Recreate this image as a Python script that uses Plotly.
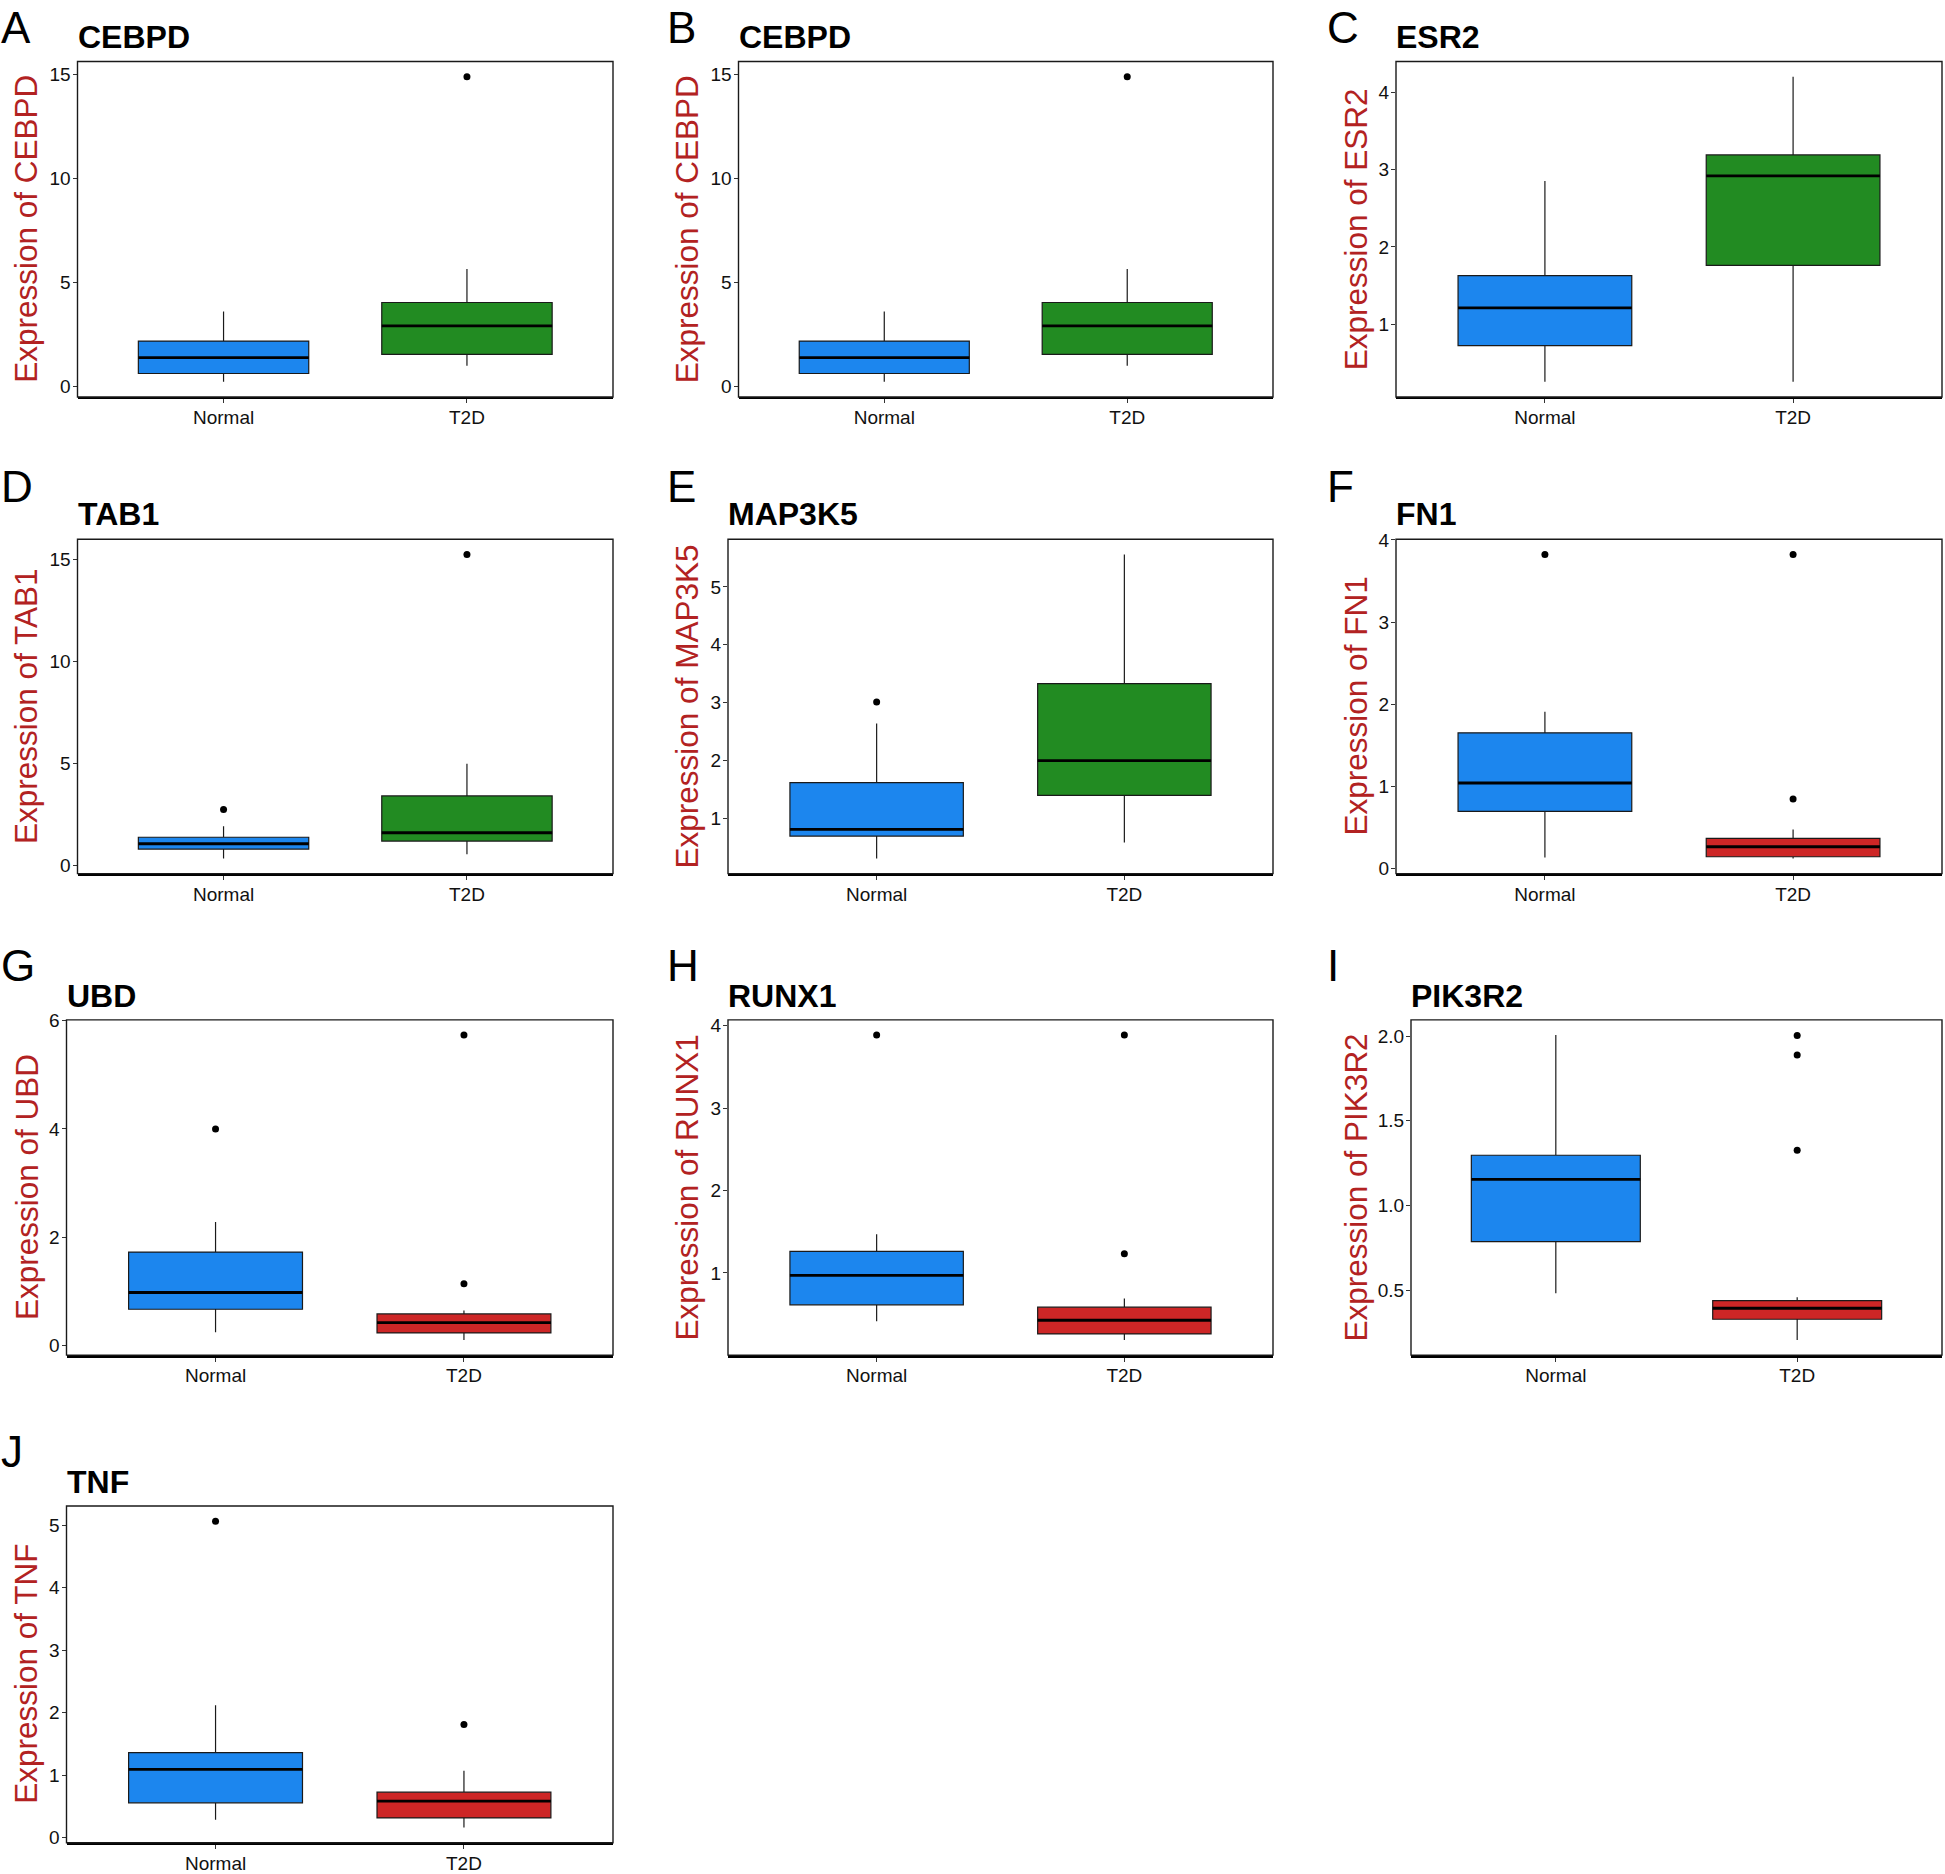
import plotly.graph_objects as go

# ---------------- data ----------------
genes = ["CEBPD", "CEBPD", "ESR2", "TAB1", "MAP3K5", "FN1", "UBD", "RUNX1", "PIK3R2", "TNF"]
panel_letters = ["A", "B", "C", "D", "E", "F", "G", "H", "I", "J"]
groups = ["Normal", "T2D"]
t2d_color_key = ["green", "green", "green", "green", "green", "red", "red", "red", "red", "red"]

normal_low = [0.21, 0.21, 0.255, 0.33, 0.31, 0.134, 0.24, 0.414, 0.482, 0.285]
normal_q1 = [0.61, 0.61, 0.723, 0.79, 0.695, 0.694, 0.667, 0.613, 0.787, 0.554]
normal_median = [1.37, 1.37, 1.212, 1.05, 0.81, 1.04, 0.977, 0.97, 1.154, 1.091]
normal_q3 = [2.17, 2.17, 1.628, 1.37, 1.62, 1.651, 1.724, 1.262, 1.297, 1.36]
normal_high = [3.59, 3.59, 2.853, 1.91, 2.64, 1.907, 2.28, 1.469, 2.006, 2.118]
normal_outliers = [[], [], [], [2.73], [3.01], [3.822], [4.0], [3.886], [], [5.065]]

t2d_low = [0.98, 0.98, 0.255, 0.54, 0.586, 0.122, 0.10, 0.187, 0.207, 0.161]
t2d_q1 = [1.53, 1.53, 1.762, 1.18, 1.40, 0.142, 0.229, 0.26, 0.329, 0.312]
t2d_median = [2.9, 2.9, 2.918, 1.59, 2.0, 0.264, 0.42, 0.426, 0.394, 0.581]
t2d_q3 = [4.03, 4.03, 3.19, 3.4, 3.33, 0.365, 0.58, 0.584, 0.439, 0.726]
t2d_high = [5.64, 5.64, 4.2, 4.98, 5.56, 0.475, 0.643, 0.69, 0.459, 1.07]
t2d_outliers = [[14.9], [14.9], [], [15.26], [], [0.844, 3.822], [1.137, 5.735],
                [1.233, 3.886], [1.327, 1.888, 2.004], [1.81]]

y_tick_values = [[0, 5, 10, 15], [0, 5, 10, 15], [1, 2, 3, 4], [0, 5, 10, 15], [1, 2, 3, 4, 5],
                 [0, 1, 2, 3, 4], [0, 2, 4, 6], [0, 1, 2, 3, 4], [0.5, 1.0, 1.5, 2.0], [0, 1, 2, 3, 4, 5]]
y_tick_labels = [["0", "5", "10", "15"], ["0", "5", "10", "15"], ["1", "2", "3", "4"],
                 ["0", "5", "10", "15"], ["1", "2", "3", "4", "5"], ["0", "1", "2", "3", "4"],
                 ["0", "2", "4", "6"], ["0", "1", "2", "3", "4"], ["0.5", "1.0", "1.5", "2.0"],
                 ["0", "1", "2", "3", "4", "5"]]

# ---------------- styling / layout ----------------
W, H = 1945, 1874
FONT = "Liberation Sans, Arial, sans-serif"
FILL = {"blue": "#1C86EE", "green": "#228B22", "red": "#CD2626"}
LABEL_RED = "#B22222"
BOX_W = 0.7

# panel frames in pixels: (left, right, top, bottom)
frames = [
    (77.5, 613, 60.5, 397), (738.5, 1273, 60.5, 397), (1396, 1942, 60.5, 397),
    (77.5, 613, 539.7, 875), (728, 1273, 539.7, 875), (1396, 1942, 539.7, 875),
    (66.5, 613, 1021.7, 1358), (728, 1273, 1021.7, 1358), (1411, 1942, 1021.7, 1358),
    (66.5, 613, 1509.3, 1847),
]
col_of = [0, 1, 2, 0, 1, 2, 0, 1, 2, 0]
row_of = [0, 0, 0, 1, 1, 1, 2, 2, 2, 3]
letter_x = [-1, 665, 1325]
letter_y = [26.5, 486.5, 967, 1455]
title_y = [36, 514.3, 997.5, 1485]
ylabel_x = [26.5, 687, 1356]

# small vertical correction for how the page ends up in the photograph
Y_OFF, Y_SCALE = 8.8, 0.9923


def px_x(v):
    return v / W


def px_y(v):
    return 1 - ((v - Y_OFF) / Y_SCALE) / H


fig = go.Figure()
layout = dict(width=W, height=H, margin=dict(l=0, r=0, t=0, b=0),
              paper_bgcolor="white", plot_bgcolor="white", boxmode="overlay",
              showlegend=False, font=dict(family=FONT, color="#111111"))
shapes = []
annotations = []

for i in range(10):
    n = i + 1
    xa = "x" if n == 1 else f"x{n}"
    ya = "y" if n == 1 else f"y{n}"
    l, r, t, b = frames[i]

    all_vals = ([normal_low[i], normal_high[i], t2d_low[i], t2d_high[i]]
                + normal_outliers[i] + t2d_outliers[i])
    lo, hi = min(all_vals), max(all_vals)
    span = hi - lo
    yrange = [lo - 0.05 * span, hi + 0.05 * span]

    layout["xaxis" if n == 1 else f"xaxis{n}"] = dict(
        domain=[px_x(l), px_x(r)], anchor=ya, type="category",
        categoryorder="array", categoryarray=groups, range=[-0.6, 1.6],
        showline=True, linewidth=2.4, linecolor="black", mirror=False,
        ticks="outside", ticklen=4, tickwidth=1, tickcolor="#333333",
        ticklabelstandoff=-2,
        tickfont=dict(family=FONT, size=19, color="#111111"),
        showgrid=False, zeroline=False, fixedrange=True)
    layout["yaxis" if n == 1 else f"yaxis{n}"] = dict(
        domain=[px_y(b), px_y(t)], anchor=xa, range=yrange,
        tickmode="array", tickvals=y_tick_values[i], ticktext=y_tick_labels[i],
        showline=False, ticks="outside", ticklen=4, tickwidth=1, tickcolor="#333333",
        ticklabelstandoff=-2,
        tickfont=dict(family=FONT, size=19, color="#111111"),
        showgrid=False, zeroline=False, fixedrange=True)

    stats = [
        (normal_low[i], normal_q1[i], normal_median[i], normal_q3[i], normal_high[i],
         normal_outliers[i], FILL["blue"]),
        (t2d_low[i], t2d_q1[i], t2d_median[i], t2d_q3[i], t2d_high[i],
         t2d_outliers[i], FILL[t2d_color_key[i]]),
    ]
    for g, (lw, q1, med, q3, up, outs, col) in enumerate(stats):
        fig.add_trace(go.Box(
            x=[groups[g]], q1=[q1], median=[med], q3=[q3], lowerfence=[lw], upperfence=[up],
            width=BOX_W, fillcolor=col, line=dict(color="#1a1a1a", width=1.2),
            whiskerwidth=0, boxpoints=False, xaxis=xa, yaxis=ya, hoverinfo="skip"))
        if outs:
            fig.add_trace(go.Scatter(
                x=[groups[g]] * len(outs), y=outs, mode="markers",
                marker=dict(color="black", size=7), xaxis=xa, yaxis=ya, hoverinfo="skip"))
        shapes.append(dict(type="line", xref=xa, yref=ya, x0=g - BOX_W / 2, x1=g + BOX_W / 2,
                           y0=med, y1=med, line=dict(color="black", width=2.8), layer="above"))

    # panel border
    shapes.append(dict(type="rect", xref=f"{xa} domain", yref=f"{ya} domain",
                       x0=0, x1=1, y0=0, y1=1, line=dict(color="#1a1a1a", width=1.4),
                       layer="above"))

    c, rw = col_of[i], row_of[i]
    annotations.append(dict(text=panel_letters[i], x=px_x(letter_x[c]), y=px_y(letter_y[rw]),
                            xref="paper", yref="paper", xanchor="left", yanchor="middle",
                            showarrow=False, font=dict(family=FONT, size=44, color="black")))
    annotations.append(dict(text=f"<b>{genes[i]}</b>", x=px_x(l - 2), y=px_y(title_y[rw]),
                            xref="paper", yref="paper", xanchor="left", yanchor="middle",
                            showarrow=False, font=dict(family=FONT, size=32, color="black")))
    annotations.append(dict(text=f"Expression of {genes[i]}", x=px_x(ylabel_x[c]),
                            y=px_y((t + b) / 2), xref="paper", yref="paper",
                            xanchor="center", yanchor="middle", textangle=-90,
                            showarrow=False, font=dict(family=FONT, size=31.5, color=LABEL_RED)))

layout["shapes"] = shapes
layout["annotations"] = annotations
fig.update_layout(**layout)
fig.write_html(
    "out.html",
    config={"displayModeBar": False, "staticPlot": True},
    post_script="document.body.style.margin='0px';document.body.style.overflow='hidden';",
)
